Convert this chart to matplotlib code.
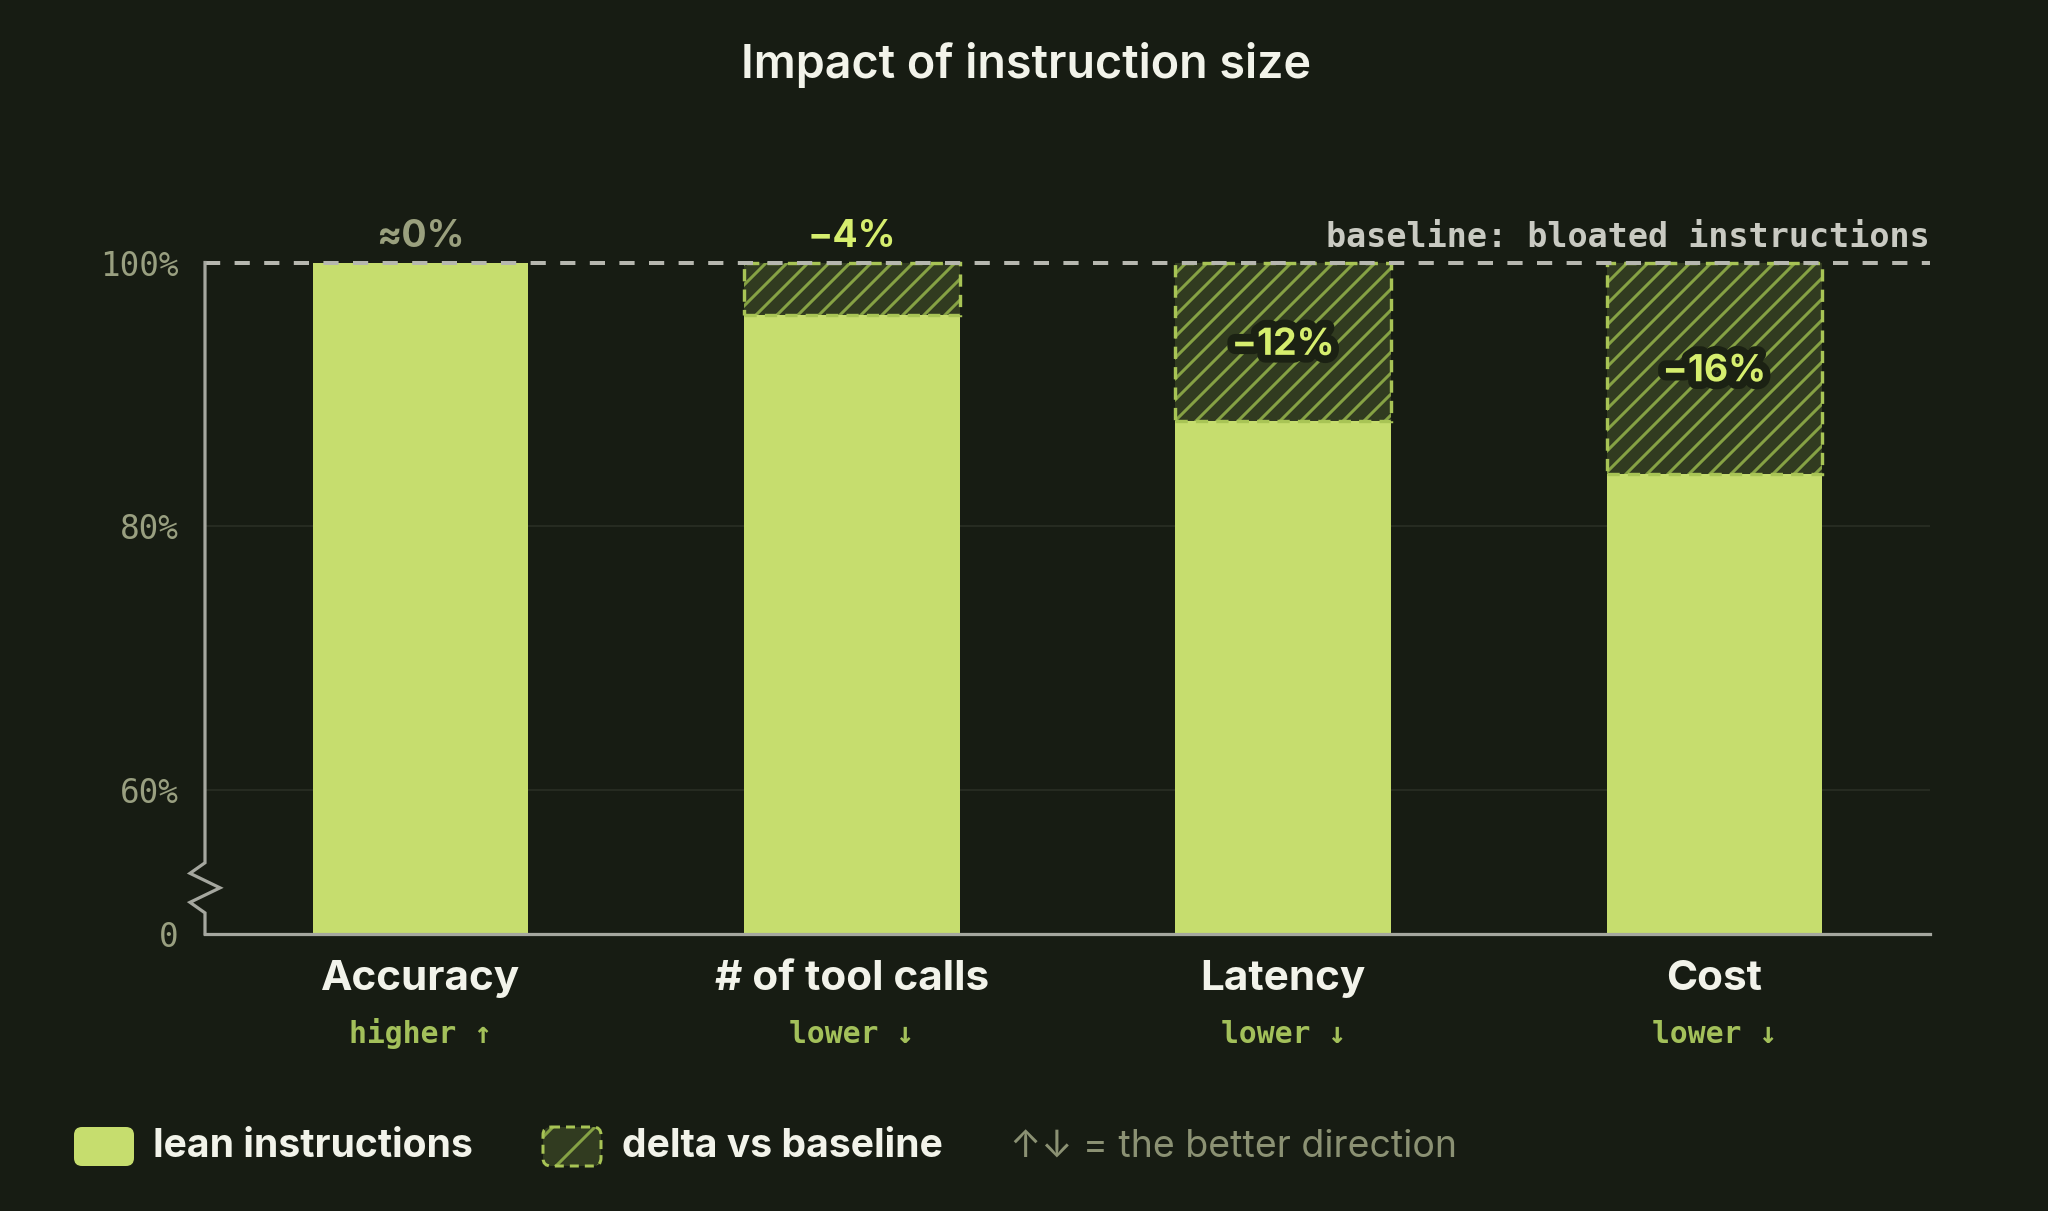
import matplotlib
matplotlib.use("Agg")
import matplotlib.pyplot as plt
from matplotlib.patches import FancyBboxPatch
from matplotlib import patheffects as pe
from matplotlib.transforms import blended_transform_factory

# ---------------- data ----------------
categories = ["Accuracy", "# of tool calls", "Latency", "Cost"]
directions = ["higher \u2191", "lower \u2193", "lower \u2193", "lower \u2193"]
lean_values = [100, 96, 88, 84]          # % of baseline
delta_values = [0, -4, -12, -16]         # % change vs baseline
delta_labels = ["\u22480%", "\u22124%", "\u221212%", "\u221216%"]
baseline_value = 100
grid_values = [60, 80]
tick_values = [60, 80, 100]
tick_labels = ["60%", "80%", "100%"]
floor_label = "0"
title = "Impact of instruction size"
baseline_text = "baseline: bloated instructions"
legend_labels = ["lean instructions", "delta vs baseline", "\u2191\u2193 = the better direction"]

# ---------------- style ----------------
BG = "#171c13"
LIME = "#c6dd6e"
DELTA_FILL = "#313b20"
HATCH = "#86a244"
DELTA_EDGE = "#a8c455"
LABEL_LIME = "#d6ee6e"
GRAY_LABEL = "#9aa07e"
TICK_COLOR = "#999f80"
SPINE = "#a5a79f"
GRID = "#262b21"
WHITE = "#f2f3ea"
DIR_GREEN = "#a3c05a"
SANS = ["Inter", "DejaVu Sans"]
MONO = ["DejaVu Sans Mono"]
AXIS_FLOOR = 49.1   # visual position of the broken-axis "0"

W, H, DPI = 2048, 1211, 126
PX = 72 / DPI          # points per pixel
K = 160 / DPI          # font scale

plt.rcParams["hatch.linewidth"] = 3.0 * PX

fig = plt.figure(figsize=(W / DPI, H / DPI), dpi=DPI)
fig.patch.set_facecolor(BG)

# overlay in pixel coordinates for titles/legend
over = fig.add_axes([0, 0, 1, 1], zorder=0)
over.set_xlim(0, W)
over.set_ylim(H, 0)
over.axis("off")
over.patch.set_alpha(0)

ax = fig.add_axes([205 / W, 1 - 934 / H, (1930 - 205) / W, (934 - 262.5) / H], zorder=1)
ax.set_facecolor(BG)
ax.patch.set_alpha(0)
ax.set_xlim(-0.5, 3.5)
ax.set_ylim(AXIS_FLOOR, 100)

x = list(range(len(categories)))
bw = 0.5

# grid
for g in grid_values:
    ax.axhline(g, color=GRID, lw=2 * PX, zorder=0)

# lean bars
ax.bar(x, [v - AXIS_FLOOR for v in lean_values], bottom=AXIS_FLOOR, width=bw,
       color=LIME, linewidth=0, zorder=2)

# delta segments
dx = [i for i, d in zip(x, delta_values) if d != 0]
dh = [-d for d in delta_values if d != 0]
db = [v for v, d in zip(lean_values, delta_values) if d != 0]
ax.bar(dx, dh, bottom=db, width=bw, color=DELTA_FILL, edgecolor=HATCH,
       linewidth=0, hatch="//", zorder=2)
edges = ax.bar(dx, dh, bottom=db, width=bw, fill=False, edgecolor=DELTA_EDGE,
               linewidth=3.4 * PX, linestyle=(0, (3.6, 2.4)), zorder=3)
for p in edges:
    p.set_clip_on(False)

# baseline dashed line
ax.axhline(baseline_value, color="#b6b7af", lw=4.0 * PX, ls=(0, (3.8, 3.6)), zorder=5,
           clip_on=False)
ax.text(1.0, 101.2, baseline_text, transform=blended_transform_factory(ax.transAxes, ax.transData),
        ha="right", va="baseline", family=MONO, weight="bold", fontsize=15.0 * K,
        color="#c9cac2", zorder=6)

# delta labels
for i, (lv, d, lab) in enumerate(zip(lean_values, delta_values, delta_labels)):
    if abs(d) >= 8:
        yb = (lv + baseline_value) / 2 - 1.0
        t = ax.text(i, yb, lab, ha="center", va="baseline", family=SANS, weight="bold",
                    fontsize=16.8 * K, color=LABEL_LIME, zorder=7)
        t.set_path_effects([pe.withStroke(linewidth=7 * K, foreground="#1b2113")])
    else:
        col = GRAY_LABEL if d == 0 else LABEL_LIME
        ax.text(i, baseline_value + 1.2, lab, ha="center", va="baseline", family=SANS,
                weight="bold", fontsize=16.8 * K, color=col, zorder=7)

# spines
for s in ["top", "right", "left"]:
    ax.spines[s].set_visible(False)
ax.spines["bottom"].set_color(SPINE)
ax.spines["bottom"].set_linewidth(3.2 * PX)
ax.spines["bottom"].set_zorder(6)

# left spine with a break
bt = blended_transform_factory(ax.transAxes, ax.transData)
off = 15 / (1930 - 205)
zx = [0, 0, -off, off, -off, 0, 0]
zy = [100, AXIS_FLOOR + 5.4, AXIS_FLOOR + 4.6, AXIS_FLOOR + 3.5,
      AXIS_FLOOR + 2.4, AXIS_FLOOR + 1.6, AXIS_FLOOR]
ax.plot(zx, zy, transform=bt, color=SPINE, lw=3.2 * PX, clip_on=False, zorder=6,
        solid_joinstyle="miter")

# y ticks
ax.set_yticks([AXIS_FLOOR] + tick_values, [floor_label] + tick_labels)
ax.tick_params(axis="y", length=0, pad=12 * K, labelcolor=TICK_COLOR, labelsize=14.7 * K)
for lab in ax.get_yticklabels():
    lab.set_family(MONO)
ax.set_xticks([])

# category and direction labels
ct = blended_transform_factory(ax.transData, over.transData)
for i, (c, d) in enumerate(zip(categories, directions)):
    ax.text(i, 990, c, transform=ct, ha="center", va="baseline", family=SANS,
            weight="bold", fontsize=19 * K, color=WHITE, clip_on=False)
    ax.text(i, 1043, d, transform=ct, ha="center", va="baseline", family=MONO,
            weight="bold", fontsize=13.4 * K, color=DIR_GREEN, clip_on=False)

# title
over.text(1026, 78, title, ha="center", va="baseline", family=SANS, weight="semibold",
          fontsize=21 * K, color=WHITE)

# legend
sw1 = FancyBboxPatch((74, 1127), 60, 39, boxstyle="round,pad=0,rounding_size=8",
                     facecolor=LIME, edgecolor="none")
over.add_patch(sw1)
over.text(153, 1157, legend_labels[0], ha="left", va="baseline", family=SANS,
          weight="bold", fontsize=17.6 * K, color=WHITE)
sw2 = FancyBboxPatch((543, 1127), 58, 39, boxstyle="round,pad=0,rounding_size=8",
                     facecolor=DELTA_FILL, edgecolor=HATCH, hatch="/", linewidth=0)
over.add_patch(sw2)
sw2e = FancyBboxPatch((543, 1127), 58, 39, boxstyle="round,pad=0,rounding_size=8",
                      fill=False, edgecolor=DELTA_EDGE, linewidth=3 * PX,
                      linestyle=(0, (3, 2)))
over.add_patch(sw2e)
over.text(622, 1157, legend_labels[1], ha="left", va="baseline", family=SANS,
          weight="bold", fontsize=17.6 * K, color=WHITE)
over.text(1010, 1157, legend_labels[2], ha="left", va="baseline", family=SANS,
          fontsize=16.9 * K, color="#8b9173")

fig.savefig("out.png", dpi=DPI, facecolor=BG)
